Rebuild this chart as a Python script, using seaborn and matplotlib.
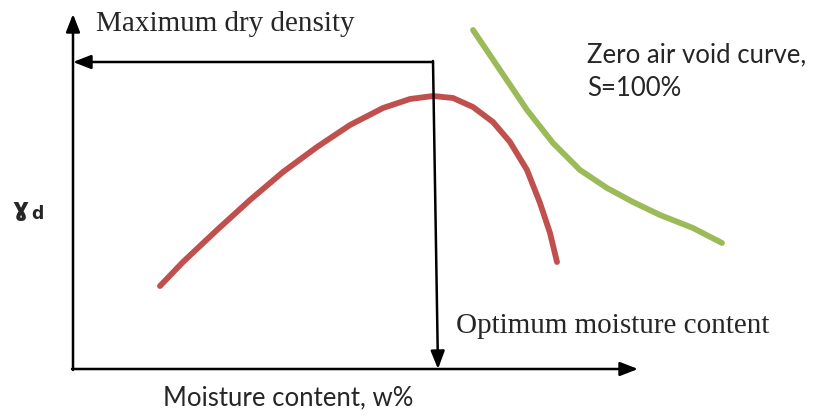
"""
Compaction curve sketch: dry density vs moisture content,
with the zero air void line and the optimum point marked.
"""

import numpy as np
import pandas as pd
import matplotlib
matplotlib.use("Agg")
import matplotlib.pyplot as plt
import seaborn as sns

# ── Data (schematic units: x = moisture, y = dry density) ─────────────────
compaction_w  = [160, 183, 217, 250, 283, 317, 350, 383, 410, 433, 453, 473,
                 493, 510, 527, 540, 550, 557]
compaction_gd = [133, 157, 189, 219, 247, 272, 294, 311, 320, 323, 321, 312,
                 297, 277, 249, 216, 186, 157]

zav_w  = [473, 500, 527, 553, 580, 607, 633, 660, 693, 722]
zav_gd = [389, 349, 309, 276, 249, 231, 217, 204, 191, 176]

axis_origin = (73, 50)
axis_x_end  = 638
axis_y_end  = 405
omc_w, mdd_gd = 433, 357
omc_w_foot    = 438

COL_RED   = "#C0504D"
COL_GREEN = "#9BBB59"

sns.set_theme(style="white")
plt.rcParams["font.family"] = ["DejaVu Sans"]

fig = plt.figure(figsize=(8.23, 4.19), dpi=100)
ax = fig.add_axes([0, 0, 1, 1])
ax.set_xlim(0, 823)
ax.set_ylim(0, 419)
ax.axis("off")

curves = pd.concat([
    pd.DataFrame({"w": compaction_w, "gd": compaction_gd, "curve": "compaction"}),
    pd.DataFrame({"w": zav_w, "gd": zav_gd, "curve": "zav"}),
])
sns.lineplot(data=curves, x="w", y="gd", hue="curve", sort=False,
             palette={"compaction": COL_RED, "zav": COL_GREEN},
             linewidth=4.2, legend=False, ax=ax)
for ln in ax.lines:
    ln.set_solid_joinstyle("round")

arrow = dict(arrowstyle="-|>,head_length=0.9,head_width=0.35", color="black",
             lw=1.8, shrinkA=0, shrinkB=0)

# axes with arrow heads
x0, y0 = axis_origin
ax.annotate("", xy=(axis_x_end, y0), xytext=(x0 - 1, y0), arrowprops=arrow)
ax.annotate("", xy=(x0, axis_y_end), xytext=(x0, y0 - 1), arrowprops=arrow)

# maximum dry density / optimum moisture content guides
ax.annotate("", xy=(x0, mdd_gd), xytext=(omc_w, mdd_gd), arrowprops=arrow)
ax.annotate("", xy=(omc_w_foot, y0), xytext=(omc_w, mdd_gd + 1), arrowprops=arrow)

serif = ["Liberation Serif", "DejaVu Serif"]
ax.text(96, 395, "Maximum dry density", family=serif, fontsize=21,
        va="center", ha="left")
ax.text(456, 93, "Optimum moisture content", family=serif, fontsize=21,
        va="center", ha="left")

sans = ["Lato", "DejaVu Sans"]
ax.text(587, 364, "Zero air void curve,", family=sans, fontsize=18.5,
        va="center", ha="left")
ax.text(587, 331, "S=100%", family=sans, fontsize=18.5, va="center", ha="left")
ax.text(163, 21, "Moisture content, w%", family=sans, fontsize=18.5,
        va="center", ha="left")

ax.text(12, 203, "ɣ", fontsize=18, fontweight="bold", va="baseline", ha="left")
ax.text(31, 200, "d", fontsize=12.5, fontweight="bold", va="baseline", ha="left")

fig.savefig("out.png", dpi=100)
